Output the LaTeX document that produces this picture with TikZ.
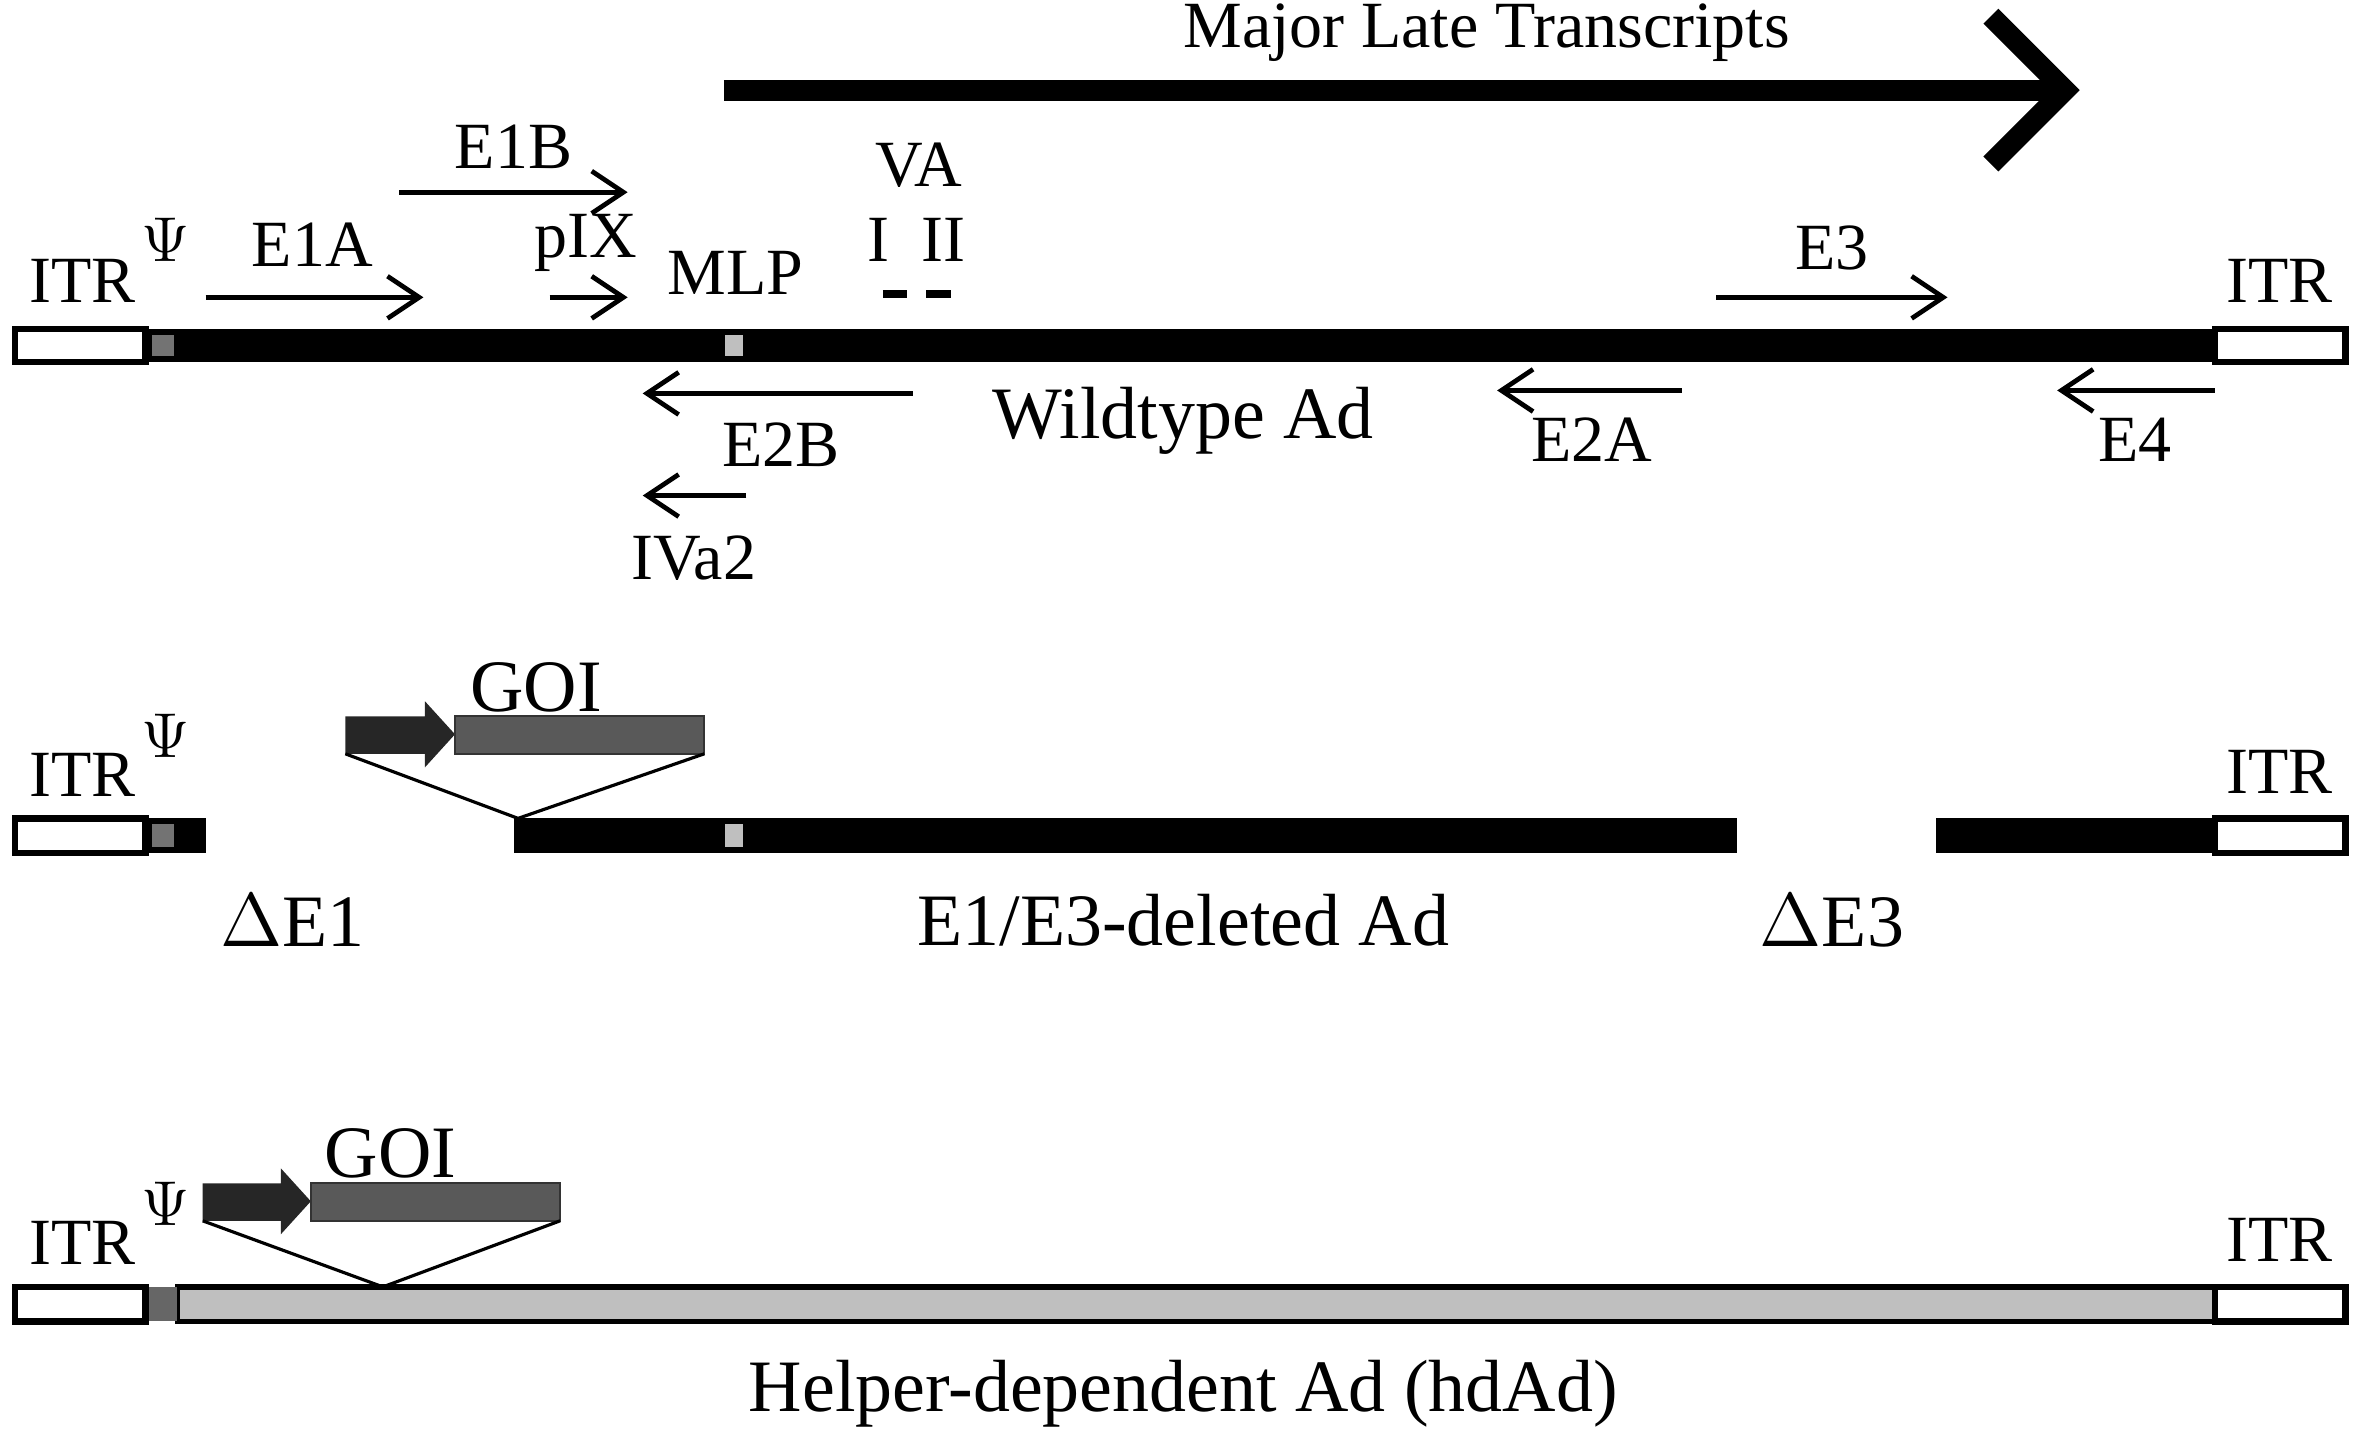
\documentclass[tikz,border=0pt]{standalone}
\usepackage{fontspec}
\setmainfont{Liberation Serif}
\usetikzlibrary{arrows.meta,shapes.arrows}
\begin{document}
\begin{tikzpicture}[x=0.01cm,y=-0.01cm,
 lab/.style={font=\fontsize{12.5}{14}\selectfont,inner sep=0},
 big/.style={font=\fontsize{14}{16}\selectfont,inner sep=0},
 tr/.style={-{Straight Barb[length=6pt,width=8pt]},line width=0.9pt},
 itr/.style={draw=black,fill=white,line width=1.2pt},
 blk/.style={fill=black},
 goibox/.style={fill=black!65,draw=black!80},
 goiarr/.style={single arrow,fill=black!85,draw=black!85,minimum height=2cm,single arrow head extend=0pt,inner sep=0}]
\useasboundingbox (0,0) rectangle (1567,957);
% Major late
\draw[line width=4pt,-{Straight Barb[length=14pt,width=28pt,line width=4pt]}] (482,60) -- (1385,60);
\node[lab] (mlt) at (990,22) {Major Late Transcripts};
% wildtype bar
\fill[blk] (97,219) rectangle (1475,241);
\draw[itr] (10,219) rectangle (97,241);
\draw[itr] (1475,219) rectangle (1562,241);
\fill[black!55] (101,223) rectangle (116,237);
\fill[black!25] (483,223) rectangle (495,237);
\node[lab] at (55,187) {ITR};
\node[lab] at (110,160) {$\Psi$};
\node[lab] at (208,163) {E1A};
\draw[tr] (137,198) -- (282,198);
\node[lab] at (342,98) {E1B};
\draw[tr] (266,128) -- (418,128);
\node[lab] at (390,162) {pIX};
\draw[tr] (366,198) -- (418,198);
\node[lab] at (490,182) {MLP};
\node[lab] at (612,110) {VA};
\node[lab] at (585,160) {I};
\node[lab] at (628,160) {II};
\draw[line width=1.5pt] (588,196) -- (604,196) (617,196) -- (633,196);
\node[lab] at (1220,165) {E3};
\draw[tr] (1143,198) -- (1297,198);
\node[lab] at (1518,187) {ITR};
\draw[tr] (608,262) -- (428,262);
\node[lab] at (520,296) {E2B};
\node[big] at (788,280) {Wildtype Ad};
\draw[tr] (1120,260) -- (997,260);
\node[lab] at (1060,293) {E2A};
\draw[tr] (1475,260) -- (1370,260);
\node[lab] at (1422,293) {E4};
\draw[tr] (497,330) -- (428,330);
\node[lab] at (462,372) {IVa2};
% E1/E3 deleted
\fill[blk] (97,545) rectangle (137,568);
\fill[blk] (342,545) rectangle (1157,568);
\fill[blk] (1289,545) rectangle (1475,568);
\draw[itr] (10,545) rectangle (97,568);
\draw[itr] (1475,545) rectangle (1562,568);
\fill[black!55] (101,549) rectangle (116,564);
\fill[black!25] (483,549) rectangle (495,564);
\node[lab] at (55,516) {ITR};
\node[lab] at (110,490) {$\Psi$};
\node[lab] at (1518,514) {ITR};
\fill[black!85] (230,477) -- (283,477) -- (283,467) -- (303,489) -- (283,511) -- (283,502) -- (230,502) -- cycle;
\draw[goibox] (303,477) rectangle (469,502);
\node[big] at (357,458) {GOI};
\draw[line width=0.6pt] (230,502) -- (345,545) -- (469,502);
\node[big] at (195,613) {$\Delta$E1};
\node[big] at (788,613) {E1/E3-deleted Ad};
\node[big] at (1220,613) {$\Delta$E3};
% hdAd
\draw[fill=black!25,line width=1pt] (118,857) rectangle (1475,880);
\fill[black!60] (97,857) rectangle (118,880);
\draw[itr] (10,857) rectangle (97,880);
\draw[itr] (1475,857) rectangle (1562,880);
\node[lab] at (55,828) {ITR};
\node[lab] at (110,802) {$\Psi$};
\node[lab] at (1518,826) {ITR};
\fill[black!85] (135,788) -- (187,788) -- (187,778) -- (207,800) -- (187,822) -- (187,813) -- (135,813) -- cycle;
\draw[goibox] (207,788) rectangle (373,813);
\node[big] at (260,768) {GOI};
\draw[line width=0.6pt] (135,813) -- (255,857) -- (373,813);
\node[big] at (788,928) {Helper-dependent Ad (hdAd)};
\end{tikzpicture}
\end{document}
